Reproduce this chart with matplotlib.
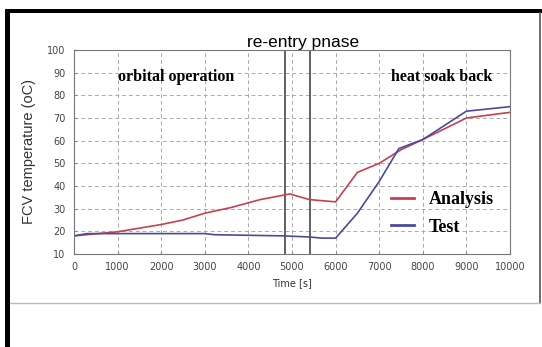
import numpy as np
import matplotlib.pyplot as plt
from matplotlib.lines import Line2D

# data
t_analysis = [0, 1000, 2000, 2500, 3000, 3600, 4270, 4950, 5400, 6000, 6500, 7000, 7500, 8000, 9000, 10000]
analysis = [18, 19.8, 23, 25, 28, 30.5, 34, 36.5, 34, 33, 46, 50, 56, 60.5, 70, 72.5]
t_test = [0, 300, 1000, 3000, 3230, 4800, 5400, 5700, 6000, 6500, 7000, 7450, 8000, 9000, 10000]
test = [18, 19, 19, 19, 18.5, 18, 17.5, 17, 17, 28, 42, 56.5, 60.5, 73, 75]
phase_lines = [4850, 5420]
x_ticks = np.arange(0, 10001, 1000)
y_ticks = np.arange(10, 101, 10)

fig = plt.figure(figsize=(5.42, 3.47), dpi=100)
W, H = 542, 347

# scanned page frame: thick black top and left, thin gray right and bottom
fig.add_artist(plt.Rectangle((5 / W, 0), 5 / W, 1 - 9 / H, transform=fig.transFigure, color='black', lw=0))
fig.add_artist(plt.Rectangle((5 / W, 1 - 13 / H), 1 - 5 / W, 4 / H, transform=fig.transFigure, color='black', lw=0))
fig.add_artist(Line2D([539.5 / W, 539.5 / W], [1 - 303 / H, 1 - 13 / H], transform=fig.transFigure, color='#555555', lw=1.2))
fig.add_artist(Line2D([10 / W, 540 / W], [1 - 303 / H, 1 - 303 / H], transform=fig.transFigure, color='#bbbbbb', lw=1.0))

ax = fig.add_axes([74 / W, 1 - 254 / H, 436 / W, 204 / H])
ax.set_xlim(0, 10000)
ax.set_ylim(10, 100)
ax.set_xticks(x_ticks)
ax.set_yticks(y_ticks)
ax.grid(True, ls=(0, (4, 3)), color='#aaaaaa', lw=0.7)
ax.tick_params(labelsize=7, labelcolor='#444444', length=2, color='#888888', direction='in', pad=6)
for s in ax.spines.values():
    s.set_color('#777777')
    s.set_linewidth(0.8)

for xv in phase_lines:
    ax.axvline(xv, color='#555555', lw=1.3)

ax.plot(t_analysis, analysis, color='#c8404f', lw=1.2, label='Analysis')
ax.plot(t_test, test, color='#4a4a9e', lw=1.2, label='Test')

ax.set_xlabel('Time [s]', fontsize=7, color='#333333', labelpad=4)
ax.set_ylabel('FCV temperature (oC)', fontsize=10.5, color='#333333', labelpad=8, family='Liberation Sans')
ax.set_title('re-entry pnase', fontsize=12.5, family='Liberation Sans', pad=1, x=0.525)

ax.text(0.10, 0.87, 'orbital operation', transform=ax.transAxes, family='Liberation Serif',
        fontweight='bold', fontsize=11.5, va='center')
ax.text(0.727, 0.87, 'heat soak back', transform=ax.transAxes, family='Liberation Serif',
        fontweight='bold', fontsize=11.5, va='center')

leg = ax.legend(loc='lower right', bbox_to_anchor=(1.0, 0.01), frameon=False, handlelength=1.3,
                labelspacing=0.6, prop={'family': 'Liberation Serif', 'weight': 'bold', 'size': 13})
for h in leg.get_lines():
    h.set_linewidth(2)

fig.savefig('out.png', dpi=100)
